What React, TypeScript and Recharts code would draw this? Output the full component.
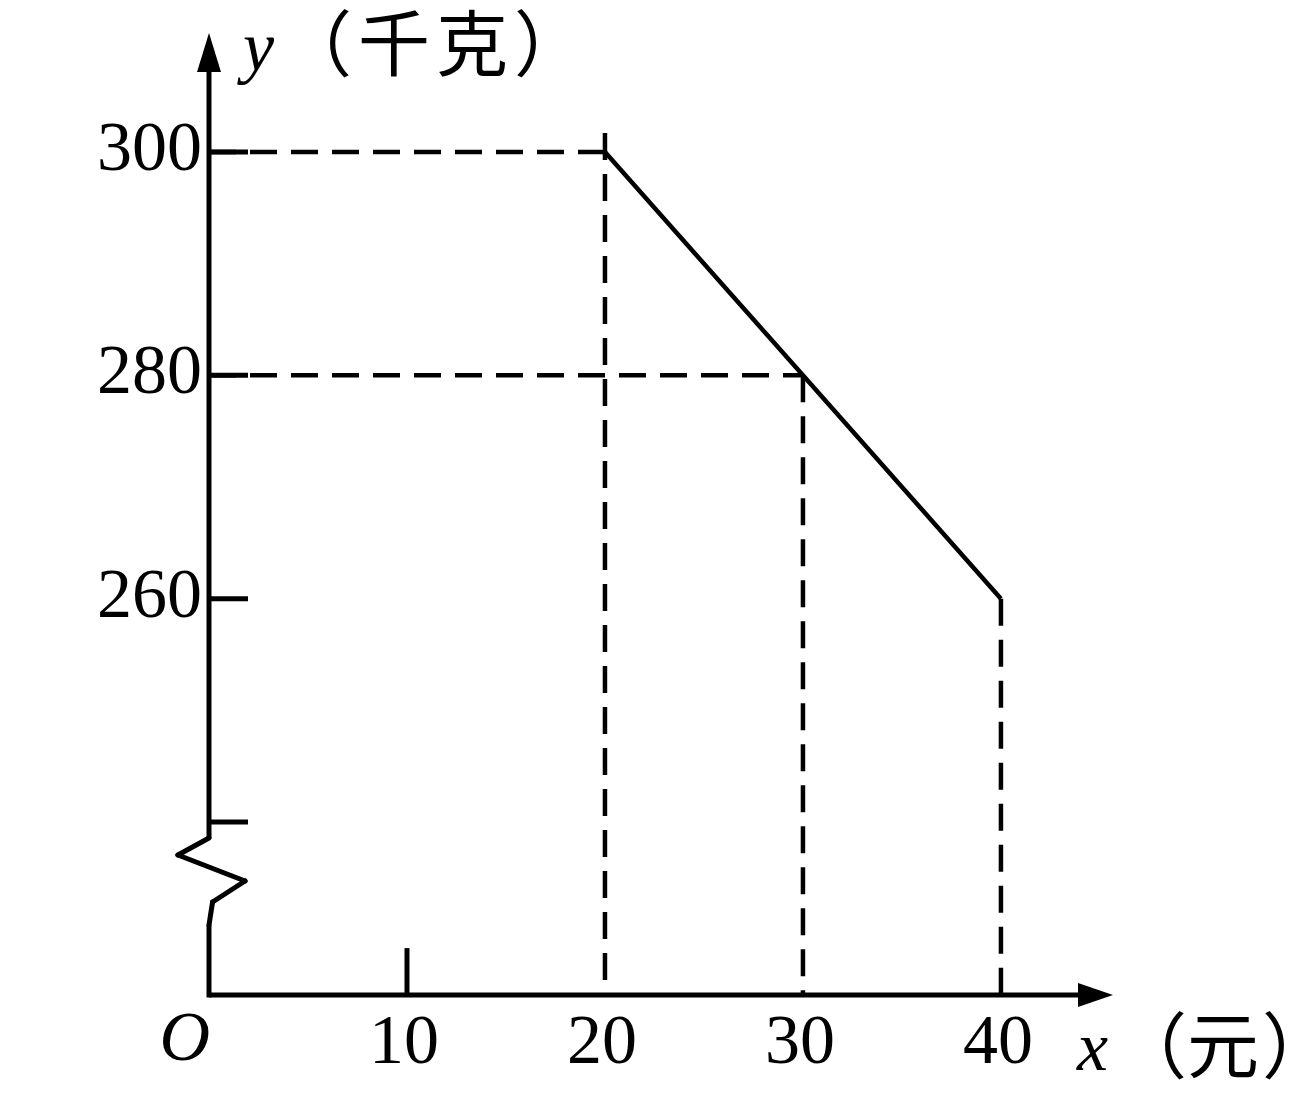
import { ComposedChart, Line, XAxis, YAxis, ReferenceLine, ReferenceDot } from 'recharts'

// price (元) vs sales (千克)
const priceX = [20, 30, 40]
const salesY = [300, 280, 260]

const xTicks = [0, 10, 20, 30, 40]
const xTickLabels = ['O', '10', '20', '30', '40']
const yTicks = [240, 260, 280, 300]
const yTickLabels = ['', '260', '280', '300']

// dashed guides
const hGuideY = [300, 280]
const hGuideToX = [20, 30]
const vGuideX = [20, 30, 40]
const vGuideTopY = [301.7, 280, 260]

// broken y axis zigzag (x, y in data units)
const breakX = [0, -1.57, 1.82, 0.18, 0]
const breakY = [238.56, 237.04, 234.71, 232.83, 230.77]

const X_MIN = 0
const X_MAX = 45.66
const Y_MIN = 224.5
const Y_MAX = 310.66

const data = priceX.map((x, i) => ({ x, y: salesY[i] }))

const serif = '"Liberation Serif", "Times New Roman", serif'
// serif first so the box uses its metrics, CJK glyphs fall back
const cjk = '"Liberation Serif", "Noto Sans CJK SC", sans-serif'

function XTick(props: any) {
  const { x, y, payload } = props
  const i = xTicks.indexOf(payload.value)
  const label = xTickLabels[i] ?? ''
  if (payload.value === 0) {
    return (
      <text x={x + 1} y={y + 65} textAnchor="end" fontFamily={serif} fontStyle="italic" fontSize={70} fill="#000">
        {label}
      </text>
    )
  }
  return (
    <text x={x - 3} y={y + 68} textAnchor="middle" fontFamily={serif} fontSize={70} fill="#000">
      {label}
    </text>
  )
}

function YTick(props: any) {
  const { x, y, payload } = props
  const i = yTicks.indexOf(payload.value)
  const label = yTickLabels[i] ?? ''
  return (
    <text x={x - 7} y={y + 18} textAnchor="end" fontFamily={serif} fontSize={70} fill="#000">
      {label}
    </text>
  )
}

function XTitle(props: any) {
  const vb = props.viewBox ?? { x: 209, y: 995, width: 904, height: 99 }
  const right = vb.x + vb.width
  const by = vb.y + 77
  return (
    <g>
      <text x={right - 36} y={vb.y + 75} fontFamily={serif} fontStyle="italic" fontSize={70} fill="#000">
        x
      </text>
      <text y={by} fontFamily={cjk} fontSize={72} fill="#000" style={{ fontFeatureSettings: '"halt"' }}>
        <tspan x={right + 38}>（</tspan>
        <tspan x={right + 74}>元</tspan>
        <tspan x={right + 149}>）</tspan>
      </text>
    </g>
  )
}

function YTitle(props: any) {
  const vb = props.viewBox ?? { x: 0, y: 33, width: 209, height: 962 }
  const left = vb.x + vb.width
  return (
    <g>
      <text x={left + 34} y={vb.y + 37} fontFamily={serif} fontStyle="italic" fontSize={70} fill="#000">
        y
      </text>
      <text x={left + 71} y={vb.y + 37} fontFamily={cjk} fontSize={72} letterSpacing={6} fill="#000">
        （千克）
      </text>
    </g>
  )
}

const XArrow = (p: any) => (
  <polygon points={`${p.cx},${p.cy} ${p.cx - 35},${p.cy - 12} ${p.cx - 35},${p.cy + 12}`} fill="#000" />
)
const YArrow = (p: any) => (
  <polygon points={`${p.cx},${p.cy} ${p.cx - 12},${p.cy + 39} ${p.cx + 12},${p.cy + 39}`} fill="#000" />
)

export default function App() {
  const dash = '27 14'
  return (
    <div style={{ position: 'absolute', left: 0, top: 0, background: '#fff' }}>
      <ComposedChart width={1298} height={1094} data={data} margin={{ top: 33, right: 185, bottom: 0, left: 0 }}>
        <XAxis
          type="number"
          dataKey="x"
          domain={[X_MIN, X_MAX]}
          allowDataOverflow
          ticks={xTicks}
          interval={0}
          axisLine={false}
          tickLine={false}
          tickSize={0}
          tickMargin={0}
          height={99}
          tick={<XTick />}
          label={{ content: <XTitle /> }}
        />
        <YAxis
          type="number"
          domain={[Y_MIN, Y_MAX]}
          allowDataOverflow
          ticks={yTicks}
          interval={0}
          axisLine={false}
          tickLine={false}
          tickSize={0}
          tickMargin={0}
          width={209}
          tick={<YTick />}
          label={{ content: <YTitle /> }}
        />

        {/* axes */}
        <ReferenceLine segment={[{ x: 0, y: Y_MIN }, { x: 44.2, y: Y_MIN }]} stroke="#000" strokeWidth={5} ifOverflow="visible" />
        <ReferenceLine segment={[{ x: 0, y: breakY[0] }, { x: 0, y: 307.2 }]} stroke="#000" strokeWidth={5} ifOverflow="visible" />
        <ReferenceLine segment={[{ x: 0, y: breakY[4] }, { x: 0, y: Y_MIN - 0.22 }]} stroke="#000" strokeWidth={5} ifOverflow="visible" />
        {breakX.slice(1).map((bx, i) => (
          <ReferenceLine
            key={`zz${i}`}
            segment={[{ x: breakX[i], y: breakY[i] }, { x: bx, y: breakY[i + 1] }]}
            stroke="#000"
            strokeWidth={5}
            strokeLinecap="round"
            ifOverflow="visible"
          />
        ))}
        <ReferenceDot x={X_MAX} y={Y_MIN} ifOverflow="visible" shape={XArrow} />
        <ReferenceDot x={0} y={Y_MAX} ifOverflow="visible" shape={YArrow} />

        {/* tick marks, drawn inward */}
        {yTicks.map((t) => (
          <ReferenceLine key={`yt${t}`} segment={[{ x: 0, y: t }, { x: 1.97, y: t }]} stroke="#000" strokeWidth={5} ifOverflow="visible" />
        ))}
        <ReferenceLine segment={[{ x: 10, y: Y_MIN }, { x: 10, y: 228.7 }]} stroke="#000" strokeWidth={5} ifOverflow="visible" />

        {/* dashed guides */}
        {hGuideY.map((gy, i) => (
          <ReferenceLine
            key={`hg${gy}`}
            segment={[{ x: 0, y: gy }, { x: hGuideToX[i], y: gy }]}
            stroke="#000"
            strokeWidth={4.5}
            strokeDasharray={dash}
            ifOverflow="visible"
          />
        ))}
        {vGuideX.map((gx, i) => (
          <ReferenceLine
            key={`vg${gx}`}
            segment={[{ x: gx, y: vGuideTopY[i] }, { x: gx, y: Y_MIN }]}
            stroke="#000"
            strokeWidth={4.5}
            strokeDasharray={dash}
            ifOverflow="visible"
          />
        ))}

        <Line type="linear" dataKey="y" stroke="#000" strokeWidth={4.5} dot={false} isAnimationActive={false} />
      </ComposedChart>
    </div>
  )
}
